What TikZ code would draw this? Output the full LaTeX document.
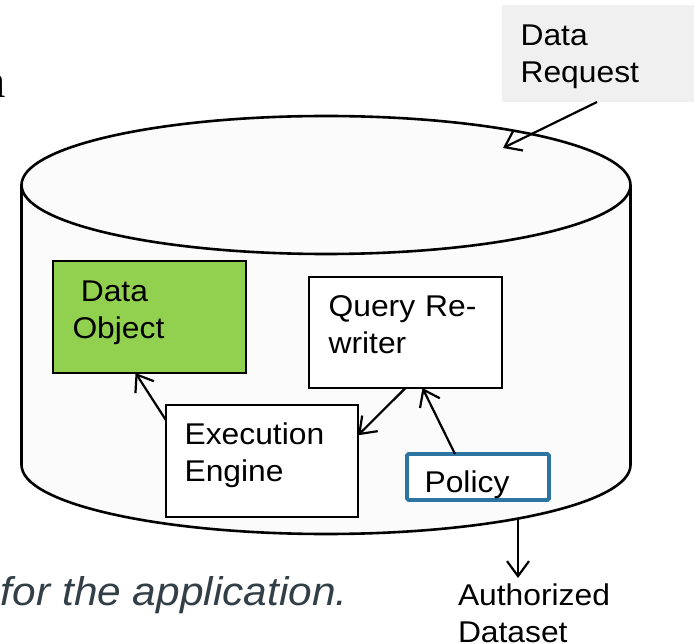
\documentclass[tikz,border=0pt]{standalone}
\usepackage{fontspec}
\setmainfont[FakeStretch=1.06]{Liberation Sans}
\newfontfamily\serifface{Liberation Serif}
\usetikzlibrary{arrows.meta,calc}

\definecolor{cylfill}{HTML}{FBFBFB}
\definecolor{objgreen}{HTML}{92D050}
\definecolor{policyblue}{HTML}{2B75A0}
\definecolor{reqgray}{HTML}{F0F0F0}
\definecolor{captiongray}{HTML}{323F47}

\begin{document}
\begin{tikzpicture}[x=1pt,y=-1pt,
  every node/.style={font=\fontsize{30}{37}\selectfont, inner sep=0pt, outer sep=0pt},
  box/.style={draw=black, line width=2pt, anchor=north west, align=left, inner ysep=0pt},
  cylline/.style={draw=black, line width=2.6pt},
  link/.style={line width=2.2pt, -{Straight Barb[length=15pt,width=22pt]}},
]
\useasboundingbox (0,0) rectangle (694,644);

% fragment of a heading running in from the left
\node[anchor=base east, font=\serifface\fontsize{48}{56}\selectfont] (frag) at (6,98) {a};

% request box in the corner
\node[anchor=north west, fill=reqgray, align=left, inner xsep=18.6pt,
      text width=180.8pt, text height=41pt, text depth=56pt] (req) at (502,5) {Data\\Request};

% the database cylinder
\fill[cylfill] (21.5,185) -- (21.5,465)
  arc[start angle=180, end angle=0, x radius=304.5, y radius=69] -- (630.5,185) -- cycle;
\draw[cylline] (21.5,185) -- (21.5,465)
  arc[start angle=180, end angle=0, x radius=304.5, y radius=69] -- (630.5,185);
\draw[cylline, fill=cylfill] (326,185) ellipse[x radius=304.5, y radius=69];
\coordinate (intake) at (503,148);
\coordinate (outlet) at (518,518.6);
\coordinate (delivery) at (518,578);

% components inside the store
\node[box, fill=objgreen, inner xsep=19.5pt, text width=154pt,
      text height=41pt, text depth=71pt] (dobj) at (53,261) {\hspace*{8.3pt}Data\\Object};
\node[box, fill=white, inner xsep=18.6pt, text width=154.8pt,
      text height=40pt, text depth=72pt] (exec) at (166,405) {Execution\\Engine};
\node[box, fill=white, inner xsep=19.6pt, text width=153.8pt,
      text height=40pt, text depth=71pt] (query) at (309,277) {Query Re-\\writer};
\node[box, draw=policyblue, line width=3.6pt, rounded corners=1.5pt, fill=white,
      inner xsep=17.6pt, text width=106.8pt,
      text height=38pt, text depth=8pt] (policy) at (407,454) {Policy};

% output label and caption
\node[anchor=base west, align=left, text width=170pt] (auth) at (458,605) {Authorized\\Dataset};
\node[anchor=base west, font=\fontsize{40}{48}\selectfont\itshape, text=captiongray]
  (caption) at (1,605) {for the application.};

% connectors
\draw[link] ($(req.south west)!0.436!(req.south east)$) -- (intake);
\draw[link] (exec.157) -- (dobj.256);
\draw[link] (query.south) -- (exec.15);
\draw[link] (policy.135) -- (query.287);
\draw[link] (outlet) -- (delivery);
\end{tikzpicture}
\end{document}
